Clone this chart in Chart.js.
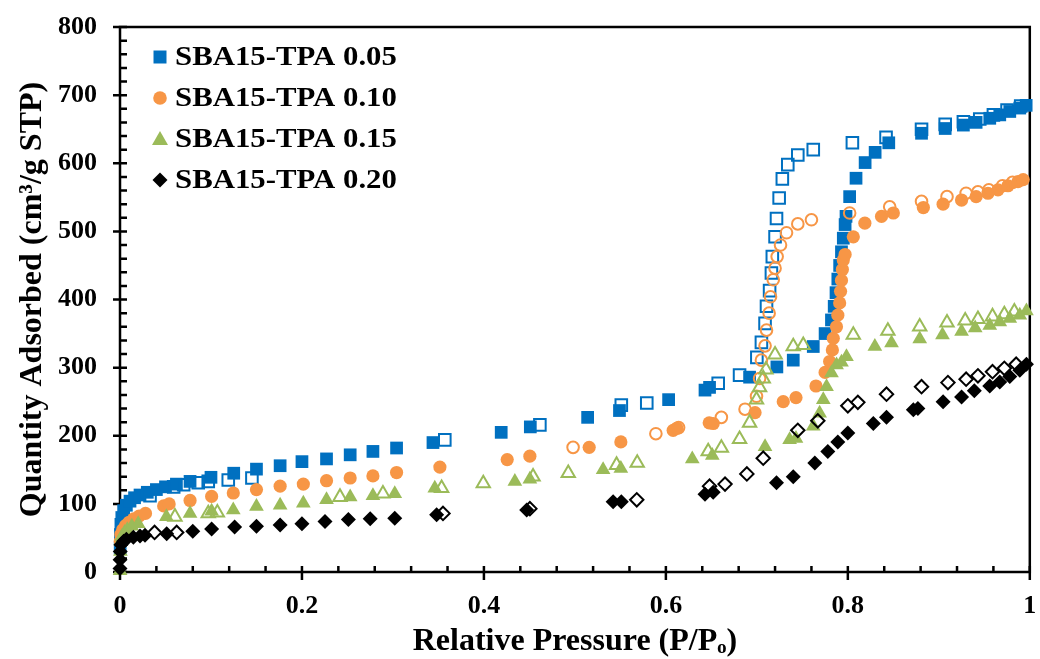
<!DOCTYPE html>
<html>
<head>
<meta charset="utf-8">
<title>N2 isotherms SBA15-TPA</title>
<script src="https://cdn.jsdelivr.net/npm/chart.js@4.4.1/dist/chart.umd.min.js"></script>
<style>
  html, body { margin: 0; padding: 0; background: #fff; }
  #wrap { width: 1040px; height: 659px; }
</style>
</head>
<body>
<div id="wrap"><canvas id="isoChart" width="1040" height="659"></canvas></div>
<script>
// series labels, colours and tick labels
const seriesNames = ['SBA15-TPA 0.05', 'SBA15-TPA 0.10', 'SBA15-TPA 0.15', 'SBA15-TPA 0.20'];
const seriesColors = ['#0070C0', '#F79646', '#9BBB59', '#000000'];
const seriesShapes = ['rect', 'circle', 'triangle', 'rectRot'];
const xTickLabels = ['0', '0.2', '0.4', '0.6', '0.8', '1'];
const yTickLabels = ['0', '100', '200', '300', '400', '500', '600', '700', '800'];

// [P/Po, quantity adsorbed]
const tpa005Ads = [[0.0002,35],[0.0005,55],[0.001,70],[0.002,80],[0.004,90],[0.007,98],[0.011,104],[0.016,109],[0.022,113],[0.03,117],[0.04,121],[0.05,125],[0.062,129],[0.077,133],[0.1,139],[0.125,145],[0.15,151],[0.176,156],[0.2,162],[0.227,166],[0.253,172],[0.278,177],[0.304,182],[0.344,190],[0.419,205],[0.451,213],[0.514,227],[0.549,237],[0.603,253],[0.643,267],[0.648,271],[0.692,286],[0.722,301],[0.74,311],[0.762,331],[0.775,350],[0.782,370],[0.785,390],[0.787,410],[0.789,430],[0.791,450],[0.793,470],[0.795,490],[0.797,510],[0.798,522],[0.802,551],[0.809,578],[0.819,601],[0.83,616],[0.845,630],[0.881,644],[0.907,651],[0.927,656],[0.941,660],[0.956,666],[0.967,671],[0.978,676],[0.989,681],[0.996,685]];
const tpa005Des = [[0.99,684],[0.975,678],[0.96,671],[0.945,665],[0.927,661],[0.907,657],[0.881,650],[0.842,638],[0.805,630],[0.762,620],[0.745,612],[0.734,598],[0.728,577],[0.7245,549],[0.7216,519],[0.72,492],[0.717,463],[0.716,439],[0.714,413],[0.7106,390],[0.709,365],[0.705,337],[0.7,315],[0.681,289],[0.6575,277],[0.579,248],[0.551,245],[0.4615,216],[0.357,194],[0.145,138],[0.119,135],[0.097,133],[0.086,131],[0.07,128],[0.059,125],[0.033,112]];

const tpa010Ads = [[0.0003,45],[0.001,55],[0.003,62],[0.006,68],[0.01,73],[0.015,78],[0.021,82],[0.028,86],[0.048,97],[0.054,100],[0.077,105],[0.1007,111],[0.1245,116],[0.15,121],[0.176,126],[0.2015,129],[0.227,134],[0.253,138],[0.278,141],[0.304,146],[0.3516,154],[0.4256,165],[0.4505,170],[0.5157,183],[0.5505,191],[0.608,208],[0.612,211],[0.6476,219],[0.652,218],[0.698,234],[0.729,250],[0.743,256],[0.765,273],[0.775,293],[0.78,309],[0.783,326],[0.784,343],[0.7875,360],[0.789,377],[0.791,395],[0.792,412],[0.793,428],[0.794,444],[0.795,458],[0.797,466],[0.806,492],[0.8187,512],[0.837,522],[0.85,527],[0.883,535],[0.9047,540],[0.925,546],[0.941,551],[0.954,556],[0.965,561],[0.976,567],[0.987,573],[0.9927,576]];
const tpa010Des = [[0.981,572],[0.97,567],[0.955,561],[0.943,558],[0.93,556],[0.909,551],[0.881,544],[0.846,536],[0.802,527],[0.76,517],[0.745,511],[0.7326,498],[0.726,480],[0.7223,463],[0.72,446],[0.718,429],[0.715,404],[0.7135,380],[0.7106,355],[0.709,332],[0.705,311],[0.703,284],[0.6996,258],[0.687,239],[0.661,227],[0.614,212],[0.589,203],[0.498,183]];

const tpa015Ads = [[0.0001,2],[0.0005,30],[0.001,45],[0.002,52],[0.005,58],[0.008,62],[0.013,67],[0.02,71],[0.051,81],[0.077,86],[0.1007,89],[0.1245,91],[0.15,96],[0.176,98],[0.2015,101],[0.227,106],[0.253,110],[0.278,112],[0.302,115],[0.346,123],[0.434,133],[0.4505,136],[0.531,150],[0.5505,152],[0.629,166],[0.651,171],[0.709,184],[0.736,194],[0.743,196],[0.762,214],[0.769,233],[0.773,253],[0.7766,272],[0.782,292],[0.7876,304],[0.793,308],[0.7985,316],[0.8297,331],[0.848,336],[0.879,342],[0.904,348],[0.925,353],[0.94,358],[0.956,362],[0.967,367],[0.978,372],[0.989,377],[0.9963,383]];
const tpa015Des = [[0.983,382],[0.972,378],[0.959,375],[0.943,371],[0.929,369],[0.909,366],[0.879,360],[0.844,354],[0.806,348],[0.751,333],[0.74,331],[0.72,319],[0.71,297],[0.707,284],[0.703,271],[0.6996,253],[0.692,219],[0.681,195],[0.661,182],[0.6465,177],[0.5685,160],[0.5458,157],[0.4927,145],[0.454,140],[0.3993,130],[0.3535,123],[0.289,115],[0.2418,110],[0.107,87],[0.097,86],[0.0604,81]];

const tpa020Ads = [[0.0,5],[0.0001,18],[0.0003,30],[0.001,40],[0.004,45],[0.007,48],[0.0147,51],[0.022,53],[0.0275,54],[0.0513,56],[0.08,60],[0.1007,63],[0.126,66],[0.15,67],[0.176,69],[0.2,71],[0.2253,74],[0.251,77],[0.275,78],[0.302,79],[0.348,84],[0.447,91],[0.542,103],[0.551,103],[0.643,114],[0.652,117],[0.7216,131],[0.74,140],[0.7637,160],[0.778,177],[0.789,191],[0.8,204],[0.828,218],[0.8425,227],[0.872,238],[0.877,240],[0.9047,250],[0.925,257],[0.939,266],[0.956,273],[0.967,279],[0.978,287],[0.989,296],[0.9963,305]];
const tpa020Des = [[0.985,305],[0.972,299],[0.959,294],[0.943,288],[0.93,283],[0.91,278],[0.881,272],[0.8425,261],[0.811,249],[0.8,244],[0.767,222],[0.745,208],[0.707,167],[0.689,144],[0.665,129],[0.648,126],[0.568,106],[0.4505,93],[0.355,86],[0.0623,58],[0.038,58]];

const FONT = '"Liberation Serif", "Times New Roman", serif';
const toPts = arr => arr.map(p => ({ x: p[0], y: p[1] }));

const markerRadius = { rect: 9, circle: 6.6, triangle: 8.5, rectRot: 7.5 };

function filledSet(i, arr) {
  return {
    label: seriesNames[i],
    data: toPts(arr),
    pointStyle: seriesShapes[i],
    pointRadius: markerRadius[seriesShapes[i]],
    pointBackgroundColor: seriesColors[i],
    pointBorderColor: seriesColors[i],
    pointBorderWidth: 0,
    order: 8 - i * 2
  };
}
function openSet(i, arr) {
  return {
    label: seriesNames[i] + ' desorption',
    data: toPts(arr),
    pointStyle: seriesShapes[i],
    pointRadius: markerRadius[seriesShapes[i]] - 0.8,
    pointBackgroundColor: 'rgba(255,255,255,0)',
    pointBorderColor: seriesColors[i],
    pointBorderWidth: 2,
    order: 7 - i * 2
  };
}

// axis frame + inner/outer tick marks
const framePlugin = {
  id: 'frame',
  beforeDatasetsDraw(chart) {
    const { ctx, chartArea: a, scales } = chart;
    ctx.save();
    ctx.strokeStyle = '#000';
    ctx.lineWidth = 2.5;
    ctx.strokeRect(a.left, a.top, a.right - a.left, a.bottom - a.top);
    ctx.beginPath();
    for (let v = 0; v <= 1.0001; v += 0.04) {
      const px = scales.x.getPixelForValue(v);
      const major = Math.abs(v / 0.2 - Math.round(v / 0.2)) < 1e-6;
      ctx.moveTo(px, a.bottom - 6);
      ctx.lineTo(px, major ? a.bottom + 8 : a.bottom);
    }
    for (let v = 0; v <= 800; v += 20) {
      const py = scales.y.getPixelForValue(v);
      const major = v % 100 === 0;
      ctx.moveTo(major ? a.left - 7 : a.left, py);
      ctx.lineTo(a.left + 7, py);
    }
    ctx.stroke();
    ctx.restore();
  }
};

function drawMarker(ctx, shape, x, y) {
  ctx.beginPath();
  if (shape === 'rect') {
    ctx.rect(x - 6.5, y - 6.5, 13, 13);
  } else if (shape === 'circle') {
    ctx.arc(x, y, 6.8, 0, Math.PI * 2);
  } else if (shape === 'triangle') {
    ctx.moveTo(x, y - 8);
    ctx.lineTo(x + 8, y + 6);
    ctx.lineTo(x - 8, y + 6);
    ctx.closePath();
  } else {
    ctx.moveTo(x, y - 7.5);
    ctx.lineTo(x + 7.5, y);
    ctx.lineTo(x, y + 7.5);
    ctx.lineTo(x - 7.5, y);
    ctx.closePath();
  }
  ctx.fill();
}

// legend inside the plot, adsorption series only
const legendPlugin = {
  id: 'isoLegend',
  afterDraw(chart) {
    const { ctx, chartArea: a } = chart;
    ctx.save();
    ctx.font = 'bold 28px ' + FONT;
    ctx.textBaseline = 'middle';
    ctx.textAlign = 'left';
    seriesNames.forEach((name, i) => {
      const y = a.top + 30 + i * 41;
      ctx.fillStyle = seriesColors[i];
      drawMarker(ctx, seriesShapes[i], a.left + 40, y);
      ctx.fillStyle = '#000';
      ctx.save();
      ctx.translate(a.left + 55, y + 1);
      ctx.scale(1.1, 1);
      ctx.fillText(name, 0, 0);
      ctx.restore();
    });
    ctx.restore();
  }
};

function noEdgePadding(scale) {
  scale.paddingLeft = 0;
  scale.paddingRight = 0;
  scale.paddingTop = 0;
  scale.paddingBottom = 0;
}

new Chart(document.getElementById('isoChart'), {
  type: 'scatter',
  data: {
    datasets: [
      filledSet(0, tpa005Ads), openSet(0, tpa005Des),
      filledSet(1, tpa010Ads), openSet(1, tpa010Des),
      filledSet(2, tpa015Ads), openSet(2, tpa015Des),
      filledSet(3, tpa020Ads), openSet(3, tpa020Des)
    ]
  },
  options: {
    responsive: false,
    animation: false,
    devicePixelRatio: 1,
    layout: { padding: { top: 27, right: 10, left: 0, bottom: 0 } },
    plugins: {
      legend: { display: false },
      tooltip: { enabled: false }
    },
    elements: { point: { hoverRadius: 0 } },
    datasets: { scatter: { clip: false } },
    scales: {
      x: {
        type: 'linear',
        min: 0,
        max: 1,
        grid: { display: false, drawTicks: false },
        border: { display: false },
        ticks: {
          stepSize: 0.2,
          padding: 19,
          color: '#000',
          font: { family: FONT, size: 26, weight: 'bold' },
          callback: (v, idx) => xTickLabels[idx]
        },
        title: {
          display: true,
          text: 'Relative Pressure (P/Pₒ)',
          color: '#000',
          font: { family: FONT, size: 32, weight: 'bold', lineHeight: 0.85 }
        },
        afterFit(scale) { scale.height = 87; noEdgePadding(scale); }
      },
      y: {
        type: 'linear',
        min: 0,
        max: 800,
        grid: { display: false, drawTicks: false },
        border: { display: false },
        ticks: {
          stepSize: 100,
          padding: 23,
          color: '#000',
          font: { family: FONT, size: 26, weight: 'bold' },
          callback: (v, idx) => yTickLabels[idx]
        },
        title: {
          display: true,
          text: 'Quantity Adsorbed (cm³/g STP)',
          color: '#000',
          font: { family: FONT, size: 32, weight: 'bold', lineHeight: 1.8 }
        },
        afterFit(scale) { scale.width = 120; noEdgePadding(scale); }
      }
    }
  },
  plugins: [framePlugin, legendPlugin]
});
</script>
</body>
</html>
